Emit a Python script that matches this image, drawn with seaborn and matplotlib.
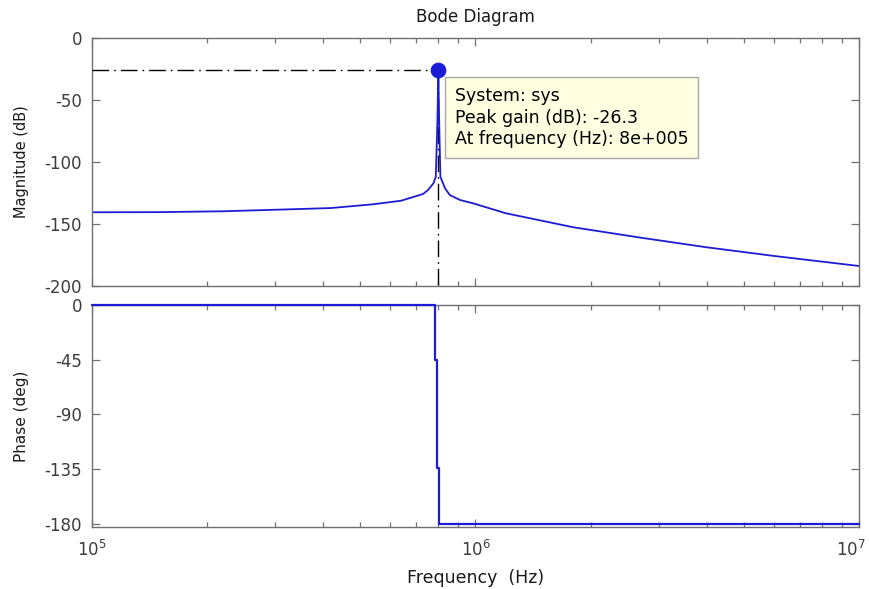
import matplotlib
matplotlib.use("Agg")
import matplotlib.pyplot as plt
import pandas as pd
import seaborn as sns
from matplotlib.ticker import LogLocator, NullFormatter, FixedLocator
from matplotlib.transforms import ScaledTranslation

# Magnitude response (dB) over frequency (Hz)
freq_mag_hz = [1.0e5, 1.5e5, 2.2e5, 3.3e5, 4.2e5, 5.4e5, 6.4e5, 7.3e5, 7.52e5,
               7.77e5, 7.88e5, 7.96e5, 8.0e5, 8.04e5, 8.1e5, 8.33e5, 8.57e5,
               9.11e5, 9.86e5, 1.2e6, 1.8e6, 2.7e6, 4.0e6, 6.0e6, 1.0e7]
magnitude_db = [-140.6, -140.5, -139.8, -138.2, -137.2, -134.2, -131.3, -125.9, -122.7,
                -117.3, -112.0, -66.0, -26.3, -66.0, -112.0, -121.3, -126.7,
                -130.7, -133.4, -141.4, -152.7, -161.1, -168.8, -175.8, -183.9]

# Phase response (deg) over frequency (Hz)
freq_phase_hz = [1.0e5, 7.84e5, 7.84e5, 7.95e5, 7.95e5, 8.03e5, 8.03e5, 1.0e7]
phase_deg = [0.0, 0.0, -45.0, -45.0, -134.0, -134.0, -180.0, -180.0]

# Peak marker
peak_freq_hz = 8e5
peak_gain_db = -26.3
peak_text = ["System: sys",
             "Peak gain (dB): -26.3",
             "At frequency (Hz): 8e+005"]

mag_ticks = [0, -50, -100, -150, -200]
phase_ticks = [0, -45, -90, -135, -180]

sns.set_style("white")
plt.rcParams["font.family"] = ["DejaVu Sans"]
plt.rcParams["axes.unicode_minus"] = False

line_blue = "#1c1cd6"
frame_grey = "#707070"
tick_text = "#3c3c3c"
label_text = "#1a1a1a"

fig = plt.figure(figsize=(8.7, 5.89), dpi=100)
fig.patch.set_facecolor("white")
ax_mag = fig.add_axes([0.1054, 0.5144, 0.8823, 0.4216])
ax_ph = fig.add_axes([0.1054, 0.1058, 0.8823, 0.3764])

for ax in (ax_mag, ax_ph):
    ax.set_xscale("log")
    ax.set_xlim(1e5, 1e7)

mag_df = pd.DataFrame({"freq": freq_mag_hz, "mag": magnitude_db})
ph_df = pd.DataFrame({"freq": freq_phase_hz, "phase": phase_deg})

sns.lineplot(data=mag_df, x="freq", y="mag", ax=ax_mag, color=line_blue,
             linewidth=1.3, estimator=None, sort=False)
sns.lineplot(data=ph_df, x="freq", y="phase", ax=ax_ph, color=line_blue,
             linewidth=1.6, estimator=None, sort=False, clip_on=False, zorder=3)

ax_mag.set_ylim(-200, 0)
ax_ph.set_ylim(-182.5, 0)
ax_mag.yaxis.set_major_locator(FixedLocator(mag_ticks))
ax_ph.yaxis.set_major_locator(FixedLocator(phase_ticks))

# Peak cursor guide lines and marker
x_left = ax_mag.get_xlim()[0]
y_bottom = ax_mag.get_ylim()[0]
dashdot = (12, 3.6, 1.2, 3.6)
ax_mag.plot([x_left, peak_freq_hz], [peak_gain_db, peak_gain_db], color="black",
            linewidth=1.0, dashes=dashdot, zorder=3)
ax_mag.plot([peak_freq_hz, peak_freq_hz], [peak_gain_db, y_bottom], color="black",
            linewidth=1.0, dashes=dashdot, zorder=1)
sns.scatterplot(x=[peak_freq_hz], y=[peak_gain_db], ax=ax_mag, color=line_blue,
                s=110, edgecolor=line_blue, zorder=5, legend=False)

ax_mag.annotate("\n".join(peak_text), xy=(peak_freq_hz, peak_gain_db),
                xytext=(12, -12), textcoords="offset points", ha="left", va="top",
                fontsize=12.5, color="black", linespacing=1.25, zorder=6,
                bbox=dict(boxstyle="square,pad=0.55", fc="#ffffe1", ec="#a8a8a8", lw=1.0))

for ax in (ax_mag, ax_ph):
    ax.xaxis.set_major_locator(LogLocator(base=10))
    ax.xaxis.set_minor_locator(LogLocator(base=10, subs=range(2, 10)))
    ax.xaxis.set_minor_formatter(NullFormatter())
    ax.tick_params(which="both", direction="in", top=True, bottom=True, left=True,
                   right=True, color=frame_grey, width=0.9)
    ax.tick_params(which="major", length=5.5, labelsize=12, labelcolor=tick_text)
    ax.tick_params(which="minor", length=3.5)
    ax.tick_params(axis="y", which="minor", left=False, right=False)
    ax.tick_params(axis="y", pad=7)
    ax.tick_params(axis="x", pad=9.5)
    for s in ax.spines.values():
        s.set_color(frame_grey)
        s.set_linewidth(1.0)
    ax.set_facecolor("white")

ax_mag.tick_params(axis="x", labelbottom=False)

ax_mag.set_title("Bode Diagram", fontsize=12, color=label_text, pad=11)
ax_mag.set_xlabel("")
ax_ph.set_xlabel("Frequency  (Hz)", fontsize=12.5, color=label_text)
ax_ph.xaxis.set_label_coords(0.5, -0.189)
ax_mag.set_ylabel("Magnitude (dB)", fontsize=10.5, color=label_text)
ax_ph.set_ylabel("Phase (deg)", fontsize=11, color=label_text)
for ax in (ax_mag, ax_ph):
    ax.yaxis.set_label_coords(-0.0908, 0.5)
    ax.yaxis.label.set_va("center")

# Keep the right-most decade label inside the figure edge
fig.canvas.draw()
nudge = ScaledTranslation(-6 / 72, 0, fig.dpi_scale_trans)
for tick in ax_ph.xaxis.get_major_ticks():
    if abs(tick.get_loc() - ax_ph.get_xlim()[1]) < 1:
        tick.label1.set_transform(tick.label1.get_transform() + nudge)

fig.savefig("out.png", dpi=100, facecolor="white")
